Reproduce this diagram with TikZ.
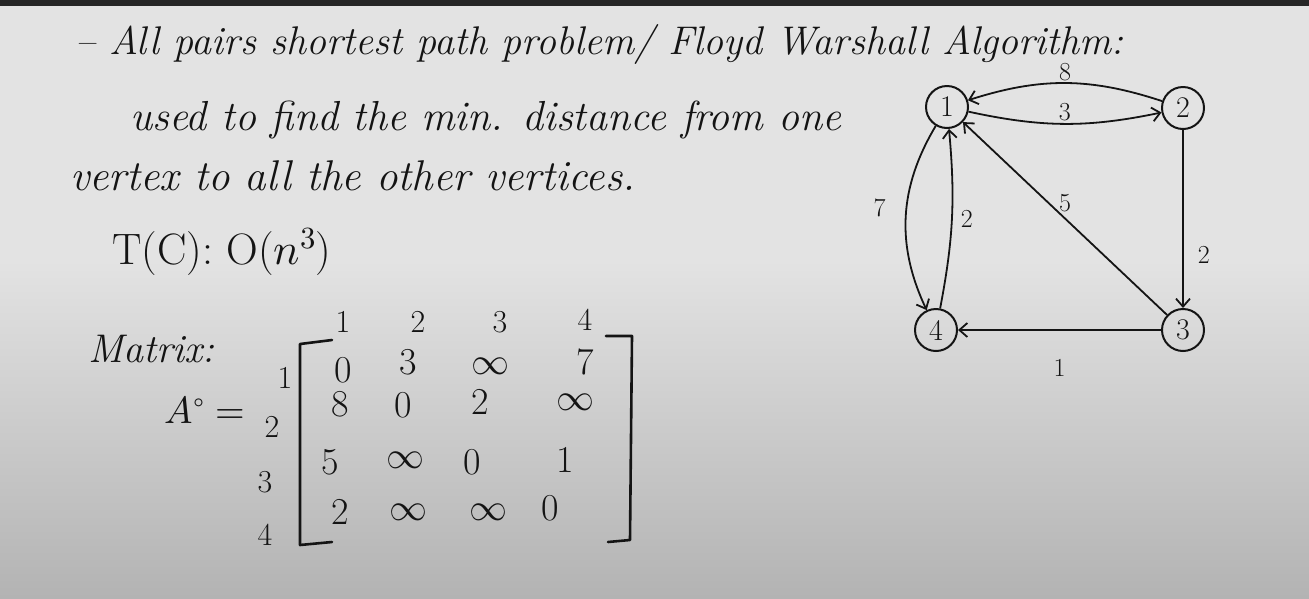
\documentclass[tikz,border=0pt]{standalone}
\usepackage{fontspec}
\usepackage{unicode-math}
\setmathfont{Latin Modern Math}
\usetikzlibrary{arrows.meta,positioning}
\definecolor{barcol}{HTML}{262626}
\definecolor{paper}{HTML}{E3E3E3}
\definecolor{paperlow}{HTML}{B3B3B3}
\definecolor{ink}{HTML}{141414}
\tikzset{
  hand/.style={font=\fontsize{40}{44}\selectfont\itshape, anchor=base west, inner sep=0pt, text=ink},
  plainhand/.style={font=\fontsize{44}{48}\selectfont, anchor=base west, inner sep=0pt, text=ink},
  entry/.style={font=\fontsize{38}{40}\selectfont, inner sep=0pt, text=ink},
  idx/.style={font=\fontsize{32}{34}\selectfont, inner sep=0pt, text=ink},
  vertex/.style={circle, draw=ink, line width=2pt, minimum size=42pt, inner sep=0pt, text=ink, font=\fontsize{30}{32}\selectfont},
  edge/.style={draw=ink, line width=1.8pt, -{Straight Barb[length=8pt,width=14pt]}},
  weight/.style={font=\fontsize{26}{28}\selectfont, inner sep=2pt, text=ink},
  brack/.style={draw=ink, line width=2.6pt, line join=round, line cap=round},
}
\begin{document}
\begin{tikzpicture}[x=1pt,y=-1pt]
% background
\useasboundingbox (0,0) rectangle (1309,598);
\fill[paper] (0,0) rectangle (1309,260);
\shade[top color=paper, bottom color=paperlow] (0,260) rectangle (1309,598);
\fill[barcol] (0,0) rectangle (1309,6);
% notes
\node[hand] (title) at (75,54)  {-- All pairs shortest path problem/ Floyd Warshall Algorithm:};
\node[hand,font=\fontsize{42}{46}\selectfont\itshape] (use1) at (130,130) {used to find the min. distance from one};
\node[hand,font=\fontsize{43}{46}\selectfont\itshape] (use2) at (70,190) {vertex to all the other vertices.};
\node[plainhand] (time) at (112,264) {T(C): O($n^3$)};
\node[hand] (mat)   at (88,362)  {Matrix:};
\node[entry] (A0)   at (205,410) {$A^\circ =$};
% column and row indices
\node[idx] (h1) at (343,322) {1};
\node[idx] (h2) at (418,322) {2};
\node[idx] (h3) at (500,322) {3};
\node[idx] (h4) at (585,320) {4};
\node[idx] (r1) at (285,378) {1};
\node[idx] (r2) at (272,427) {2};
\node[idx] (r3) at (265,482) {3};
\node[idx] (r4) at (265,535) {4};
% brackets
\draw[brack] (332,340) -- (300,344) -- (300,545) -- (332,542);
\draw[brack] (606,336) -- (632,336) -- (630,540) -- (608,542);
% entries
\node[entry] (a11) at (343,370) {0};
\node[entry] (a12) at (408,362) {3};
\node[entry] (a13) at (490,366) {$\infty$};
\node[entry] (a14) at (585,362) {7};
\node[entry] (a21) at (340,404) {8};
\node[entry] (a22) at (403,405) {0};
\node[entry] (a23) at (480,402) {2};
\node[entry] (a24) at (575,402) {$\infty$};
\node[entry] (a31) at (330,462) {5};
\node[entry] (a32) at (405,460) {$\infty$};
\node[entry] (a33) at (472,462) {0};
\node[entry] (a34) at (565,460) {1};
\node[entry] (a41) at (340,512) {2};
\node[entry] (a42) at (408,512) {$\infty$};
\node[entry] (a43) at (488,512) {$\infty$};
\node[entry] (a44) at (550,508) {0};
% vertices
\node[vertex] (v1) at (947,107) {1};
\node[vertex] (v2) at (1183,108) {2};
\node[vertex] (v3) at (1183,330) {3};
\node[vertex] (v4) at (936,330) {4};
% edges
\draw[edge] (v2) to[bend right=18] node[weight,above,inner sep=1pt] (w21) {8} (v1);
\draw[edge] (v1) to[bend right=12] node[weight,above] (w12) {3} (v2);
\draw[edge] (v1) to[bend right=28] node[weight,pos=0.45,left=18pt] (w14) {7} (v4);
\draw[edge] (v4) to[bend right=8]  node[weight,right=6pt] (w41) {2} (v1);
\draw[edge] (v3) -- node[weight,above=4pt] (w31) {5} (v1);
\draw[edge] (v2) -- node[weight,pos=0.7,right=12pt] (w23) {2} (v3);
\draw[edge] (v3) -- node[weight,below=26pt] (w34) {1} (v4);
\end{tikzpicture}
\end{document}
